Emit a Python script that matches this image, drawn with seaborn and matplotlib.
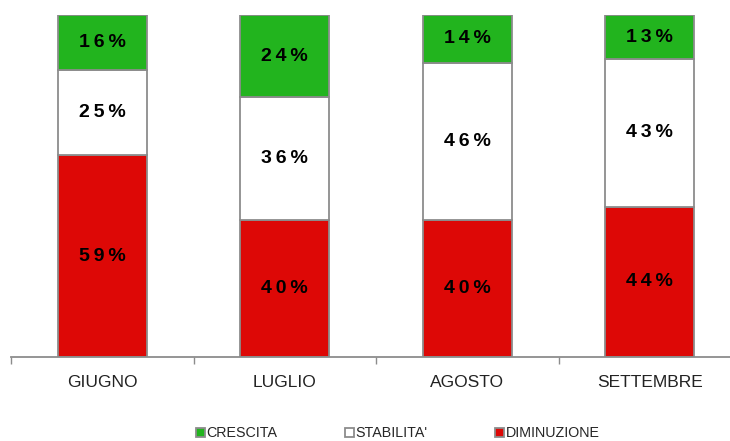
import numpy as np
import pandas as pd
import seaborn as sns
import matplotlib.pyplot as plt

months = ["GIUGNO", "LUGLIO", "AGOSTO", "SETTEMBRE"]
diminuzione = [59, 40, 40, 44]
stabilita = [25, 36, 46, 43]
crescita = [16, 24, 14, 13]

series = [("DIMINUZIONE", diminuzione, "#DD0806"),
          ("STABILITA'", stabilita, "#FFFFFF"),
          ("CRESCITA", crescita, "#22B41E")]

sns.set_theme(style="white")
plt.rcParams['font.family'] = ['Liberation Sans', 'DejaVu Sans']

fig = plt.figure(figsize=(7.30, 4.41), dpi=100)
ax = fig.add_axes([11 / 730, (441 - 357) / 441, 730 / 730, 342 / 441])

bottom = np.zeros(len(months))
handles = {}
for name, vals, color in series:
    df = pd.DataFrame({"month": months, "value": vals})
    sns.barplot(data=df, x="month", y="value", color=color, bottom=bottom,
                width=0.49, edgecolor="#8C8C8C", linewidth=1.3, saturation=1,
                ax=ax, zorder=2)
    cont = ax.containers[-1]
    handles[name] = cont.patches[0]
    for rect, v, b in zip(cont.patches, vals, bottom):
        ax.text(rect.get_x() + rect.get_width() / 2, b + v / 2, "\u2009".join(f"{v}%"),
                ha="center", va="center", fontsize=14, fontweight="bold", color="black")
    bottom = bottom + np.array(vals)

ax.set_ylim(0, 100)
ax.set_xlim(-0.5, 3.5)
ax.set_xlabel("")
ax.set_ylabel("")
ax.set_yticks([])
ax.set_xticks([-0.5, 0.5, 1.5, 2.5, 3.5], minor=False)
ax.set_xticklabels([])
ax.tick_params(axis="x", which="major", length=5, color="#8C8C8C", bottom=True, width=1)
ax.set_xticks(range(len(months)), minor=True)
ax.set_xticklabels(months, minor=True)
ax.tick_params(axis="x", which="minor", length=0, pad=13, labelsize=12.5, labelcolor="#222222")
for s in ["top", "right", "left"]:
    ax.spines[s].set_visible(False)
ax.spines["bottom"].set_color("#8C8C8C")
ax.spines["bottom"].set_linewidth(1.3)
ax.spines["bottom"].set_zorder(3)

order = ["CRESCITA", "STABILITA'", "DIMINUZIONE"]
leg = fig.legend([handles[k] for k in order], order, loc="lower center",
                 bbox_to_anchor=(0.545, -0.028), ncol=3, frameon=False,
                 fontsize=10.3, handlelength=0.6, handleheight=0.6,
                 handletextpad=0.15, columnspacing=4.7)

fig.savefig("out.png", dpi=100)
